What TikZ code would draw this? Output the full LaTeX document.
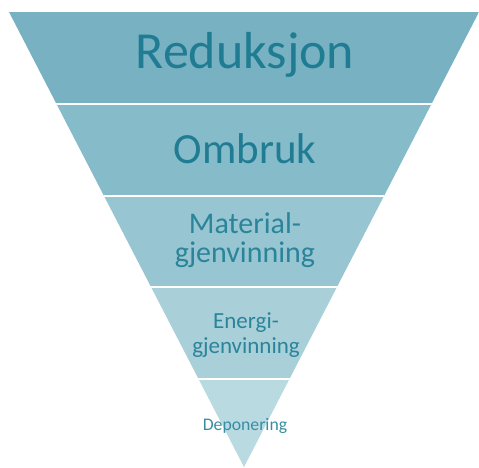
\documentclass[tikz,border=0pt]{standalone}
\usepackage{fontspec}
\setmainfont{Carlito}
\definecolor{bandA}{RGB}{119,177,194}
\definecolor{bandB}{RGB}{134,187,202}
\definecolor{bandC}{RGB}{151,197,209}
\definecolor{bandD}{RGB}{169,207,217}
\definecolor{bandE}{RGB}{186,218,226}
\definecolor{inkA}{RGB}{31,124,146}
\definecolor{inkB}{RGB}{42,132,154}
\definecolor{inkC}{RGB}{55,142,163}
\begin{document}
\begin{tikzpicture}[x=1pt,y=-1pt,
    lvl/.style={anchor=base,align=center,inner sep=0pt}]
  \useasboundingbox (0,0) rectangle (479,467);
  \begin{scope}
    \clip (9,12) -- (479,12) -- (244,467) -- cycle;
    \foreach \c [count=\i] in {bandA,bandB,bandC,bandD,bandE}
      \fill [\c] (0,{12+91.75*(\i-1)}) rectangle (479,{12+91.75*\i});
    \foreach \i in {1,...,4}
      \draw [white,line width=2pt] (0,{12+91.75*\i}) -- (479,{12+91.75*\i});
  \end{scope}
  \node [lvl,text=inkA,font=\fontsize{52}{52}\selectfont] (red) at (245,68) {Reduksjon};
  \node [lvl,text=inkA,font=\fontsize{43}{43}\selectfont] (omb) at (245,163) {Ombruk};
  \node [lvl,text=inkB,font=\fontsize{30}{29}\selectfont] (mat) at (245,262) {Material-\\gjenvinning};
  \node [lvl,text=inkB,font=\fontsize{23}{25}\selectfont] (ene) at (246,353) {Energi-\\gjenvinning};
  \node [lvl,text=inkC,font=\fontsize{17.7}{18}\selectfont] (dep) at (245,430) {Deponering};
\end{tikzpicture}
\end{document}
